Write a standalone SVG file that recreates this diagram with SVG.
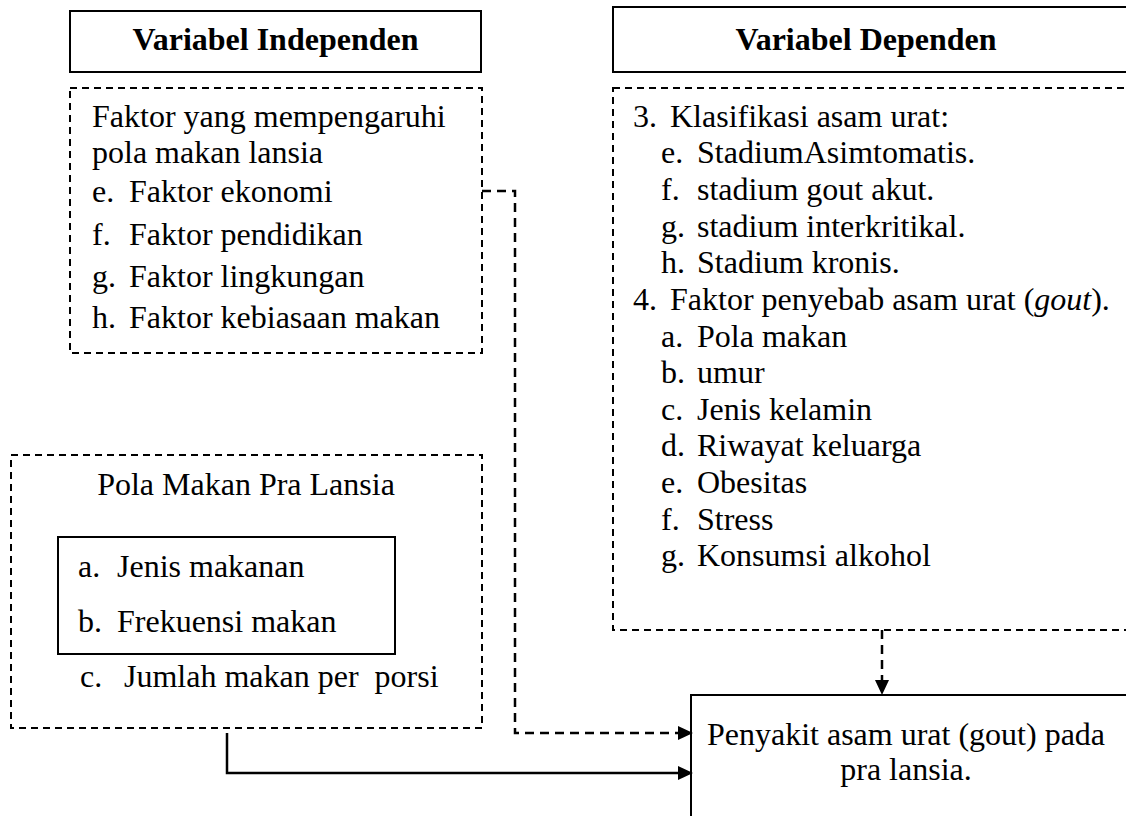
<svg xmlns="http://www.w3.org/2000/svg" width="1126" height="816" viewBox="0 0 1126 816">
<defs>
<style>
text{font-family:"Liberation Serif","Times New Roman",serif;font-size:32px;fill:#000}
.b{font-weight:bold}
.solid{fill:none;stroke:#000;stroke-width:2}
.dash{fill:none;stroke:#000;stroke-width:2;stroke-dasharray:7 5}
.cdash{fill:none;stroke:#000;stroke-width:2.5;stroke-dasharray:9 6}
.csolid{fill:none;stroke:#000;stroke-width:2.5}
</style>
<marker id="arr" markerUnits="userSpaceOnUse" markerWidth="16" markerHeight="16" refX="7" refY="7" orient="auto">
<path d="M0,0 L15,7 L0,14 z" fill="#000"/>
</marker>
</defs>
<rect width="1126" height="816" fill="#fff"/>

<g id="title-independen">
<rect class="solid" x="70" y="11" width="411" height="61"/>
<text class="b" x="275.5" y="50" text-anchor="middle">Variabel Independen</text>
</g>

<g id="title-dependen">
<rect class="solid" x="613" y="7" width="600" height="65"/>
<text class="b" x="866" y="50" text-anchor="middle">Variabel Dependen</text>
</g>

<g id="faktor-pola-makan">
<rect class="dash" x="70" y="88" width="412" height="265"/>
<text x="92" y="127">Faktor yang mempengaruhi</text>
<text x="92" y="163">pola makan lansia</text>
<text x="92" y="202">e.</text><text x="129" y="202">Faktor ekonomi</text>
<text x="92" y="245">f.</text><text x="129" y="245">Faktor pendidikan</text>
<text x="92" y="287">g.</text><text x="129" y="287">Faktor lingkungan</text>
<text x="92" y="328">h.</text><text x="129" y="328">Faktor kebiasaan makan</text>
</g>

<g id="variabel-dependen">
<rect class="dash" x="613" y="88" width="600" height="542"/>
<text x="633" y="127">3.</text><text x="670" y="127">Klasifikasi asam urat:</text>
<text x="661" y="163">e.</text><text x="697" y="163">StadiumAsimtomatis.</text>
<text x="661" y="200">f.</text><text x="697" y="200">stadium gout akut.</text>
<text x="661" y="237">g.</text><text x="697" y="237">stadium interkritikal.</text>
<text x="661" y="273">h.</text><text x="697" y="273">Stadium kronis.</text>
<text x="633" y="310">4.</text><text x="670" y="310">Faktor penyebab asam urat (<tspan font-style="italic">gout</tspan>).</text>
<text x="661" y="347">a.</text><text x="697" y="347">Pola makan</text>
<text x="661" y="383">b.</text><text x="697" y="383">umur</text>
<text x="661" y="420">c.</text><text x="697" y="420">Jenis kelamin</text>
<text x="661" y="456">d.</text><text x="697" y="456">Riwayat keluarga</text>
<text x="661" y="493">e.</text><text x="697" y="493">Obesitas</text>
<text x="661" y="530">f.</text><text x="697" y="530">Stress</text>
<text x="661" y="566">g.</text><text x="697" y="566">Konsumsi alkohol</text>
</g>

<g id="pola-makan-pra-lansia">
<rect class="dash" x="11" y="455" width="471" height="273"/>
<text x="246" y="495" text-anchor="middle">Pola Makan Pra Lansia</text>
<rect class="solid" x="58" y="537" width="337" height="117"/>
<text x="78" y="577">a.</text><text x="117" y="577">Jenis makanan</text>
<text x="78" y="632">b.</text><text x="117" y="632">Frekuensi makan</text>
<text x="80" y="687">c.</text><text x="124" y="687" style="white-space:pre" xml:space="preserve">Jumlah makan per  porsi</text>
</g>

<g id="penyakit">
<rect class="solid" x="691" y="695" width="520" height="200"/>
<text x="906" y="745" text-anchor="middle">Penyakit asam urat (gout) pada</text>
<text x="906" y="780" text-anchor="middle">pra lansia.</text>
</g>

<g id="connectors">
<path class="cdash" d="M482,191 H515 V733 H685" marker-end="url(#arr)"/>
<path class="csolid" d="M227,733 V773 H685" marker-end="url(#arr)"/>
<path class="cdash" d="M882,630 V687" marker-end="url(#arr)"/>
</g>
</svg>
